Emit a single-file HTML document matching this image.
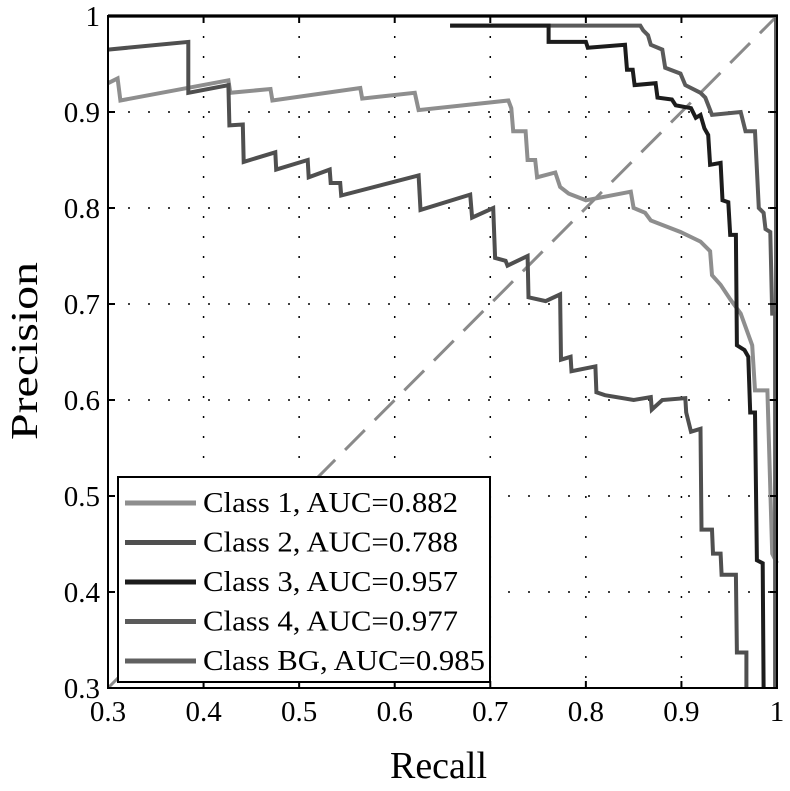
<!DOCTYPE html>
<html><head><meta charset="utf-8"><style>
body{margin:0;background:#fff}
text{font-family:"Liberation Serif",serif}
</style></head><body>
<svg id="chart" width="790" height="786" xmlns="http://www.w3.org/2000/svg"></svg>
<script>
const xTicks=[0.3,0.4,0.5,0.6,0.7,0.8,0.9,1];
const yTicks=[0.3,0.4,0.5,0.6,0.7,0.8,0.9,1];
const xTickLabels=["0.3","0.4","0.5","0.6","0.7","0.8","0.9","1"];
const yTickLabels=["0.3","0.4","0.5","0.6","0.7","0.8","0.9","1"];
const seriesNames=["Class 1, AUC=0.882","Class 2, AUC=0.788","Class 3, AUC=0.957","Class 4, AUC=0.977","Class BG, AUC=0.985"];
const class1=[[0.3,0.93],[0.31,0.935],[0.313,0.912],[0.426,0.933],[0.428,0.92],[0.47,0.924],[0.472,0.912],[0.564,0.925],[0.566,0.914],[0.621,0.92],[0.625,0.902],[0.719,0.912],[0.722,0.904],[0.724,0.88],[0.737,0.88],[0.739,0.85],[0.747,0.85],[0.749,0.832],[0.768,0.837],[0.773,0.822],[0.782,0.815],[0.8,0.808],[0.847,0.817],[0.85,0.8],[0.862,0.795],[0.868,0.787],[0.899,0.775],[0.92,0.765],[0.93,0.755],[0.932,0.73],[0.941,0.72],[0.951,0.705],[0.962,0.69],[0.974,0.657],[0.977,0.61],[0.99,0.61],[0.995,0.44],[1.0,0.43]];
const class2=[[0.3,0.965],[0.384,0.973],[0.384,0.92],[0.426,0.928],[0.427,0.886],[0.441,0.887],[0.442,0.848],[0.475,0.858],[0.476,0.84],[0.509,0.85],[0.51,0.832],[0.532,0.84],[0.533,0.826],[0.543,0.826],[0.544,0.813],[0.625,0.834],[0.627,0.798],[0.679,0.814],[0.681,0.79],[0.703,0.8],[0.705,0.748],[0.716,0.745],[0.718,0.74],[0.739,0.75],[0.74,0.707],[0.758,0.703],[0.773,0.71],[0.774,0.642],[0.784,0.645],[0.785,0.63],[0.81,0.635],[0.811,0.608],[0.82,0.605],[0.85,0.6],[0.868,0.603],[0.869,0.59],[0.88,0.6],[0.904,0.602],[0.905,0.587],[0.91,0.567],[0.92,0.57],[0.921,0.465],[0.932,0.465],[0.933,0.44],[0.941,0.44],[0.942,0.418],[0.957,0.418],[0.958,0.337],[0.968,0.337],[0.968,0.3]];
const class3=[[0.658,0.99],[0.761,0.99],[0.761,0.973],[0.8,0.973],[0.802,0.967],[0.841,0.97],[0.843,0.944],[0.849,0.944],[0.851,0.928],[0.873,0.93],[0.875,0.915],[0.89,0.913],[0.894,0.907],[0.91,0.904],[0.915,0.894],[0.92,0.897],[0.924,0.883],[0.928,0.876],[0.93,0.845],[0.941,0.847],[0.943,0.808],[0.949,0.806],[0.951,0.772],[0.957,0.772],[0.958,0.657],[0.966,0.652],[0.97,0.645],[0.972,0.587],[0.977,0.587],[0.979,0.433],[0.985,0.43],[0.986,0.3]];
const class4=[[0.658,0.99],[0.857,0.99],[0.86,0.985],[0.865,0.98],[0.868,0.97],[0.88,0.965],[0.883,0.946],[0.899,0.94],[0.904,0.928],[0.92,0.92],[0.925,0.915],[0.932,0.897],[0.962,0.9],[0.967,0.88],[0.977,0.88],[0.981,0.8],[0.986,0.795],[0.988,0.778],[0.993,0.775],[0.995,0.69],[0.998,0.69],[0.998,0.3]];
const classBG=[[0.3,1.0],[0.999,1.0],[0.999,0.3]];
const allSeries=[class1,class2,class3,class4,classBG];
const colors=["#8e8e8e","#4f4f4f","#1c1c1c","#5a5a5a","#606060"];

const NS="http://www.w3.org/2000/svg";
const svg=document.getElementById('chart');
const L=108,R=777,T=16,B=688;
const xs=v=>L+(v-0.3)/0.7*(R-L);
const ys=v=>B-(v-0.3)/0.7*(B-T);
function mk(tag,attrs,parent){const e=document.createElementNS(NS,tag);for(const k in attrs)e.setAttribute(k,attrs[k]);(parent||svg).appendChild(e);return e;}

const grid=mk('g',{});


xTicks.forEach((t,i)=>{
  if(i>0&&i<xTicks.length-1){const g=mk('line',{x1:xs(t),x2:xs(t),y1:T,y2:B,stroke:'#000','stroke-width':1.5,'stroke-dasharray':'2 18'},grid);
  
  }
});
yTicks.forEach((t,i)=>{
  if(i>0&&i<yTicks.length-1){const g=mk('line',{x1:L,x2:R,y1:ys(t),y2:ys(t),stroke:'#000','stroke-width':1.5,'stroke-dasharray':'2 18'},grid);
  
  }
});
const diag=mk('line',{x1:xs(0.3),y1:ys(0.3),x2:xs(1),y2:ys(1),stroke:'#8a8a8a','stroke-width':3,'stroke-dasharray':'28 14'});



const order=[4,0,1,3,2];
const snames=['class-1-curve','class-2-curve','class-3-curve','class-4-curve','class-bg-curve'];
order.forEach(i=>{
  const pts=allSeries[i].map(p=>xs(p[0]).toFixed(1)+','+ys(p[1]).toFixed(1)).join(' ');
  const pl=mk('polyline',{points:pts,fill:'none',stroke:colors[i],'stroke-width':4,'stroke-linejoin':'miter'});
  
  
});

const frame=mk('rect',{x:L,y:T,width:R-L,height:B-T,fill:'none',stroke:'#000','stroke-width':2});



xTicks.forEach((t,i)=>{
  mk('line',{x1:xs(t),x2:xs(t),y1:B,y2:B-7,stroke:'#000','stroke-width':2});
  mk('line',{x1:xs(t),x2:xs(t),y1:T,y2:T+7,stroke:'#000','stroke-width':2});
  const tx=mk('text',{x:xs(t),y:B+33,'font-size':29,'text-anchor':'middle'});
  tx.textContent=xTickLabels[i];
  
  
});
yTicks.forEach((t,i)=>{
  mk('line',{x1:L,x2:L+7,y1:ys(t),y2:ys(t),stroke:'#000','stroke-width':2});
  mk('line',{x1:R,x2:R-7,y1:ys(t),y2:ys(t),stroke:'#000','stroke-width':2});
  const tx=mk('text',{x:L-8,y:ys(t)+10,'font-size':29,'text-anchor':'end'});
  tx.textContent=yTickLabels[i];
  
  
});
const xt=mk('text',{x:390,y:778,'font-size':38,textLength:97,lengthAdjust:'spacingAndGlyphs'});
xt.textContent='Recall';


const yt=mk('text',{x:0,y:0,'font-size':38,textLength:178,lengthAdjust:'spacingAndGlyphs',transform:'translate(37,440) rotate(-90)'});
yt.textContent='Precision';



const lg=mk('g',{});


mk('rect',{x:118,y:477,width:372,height:205,fill:'#fff',stroke:'#000','stroke-width':2},lg);
const lens=[255,255,255,255,282];
seriesNames.forEach((n,i)=>{
  const y=503+i*39.5;
  const ln=mk('line',{x1:125,x2:196,y1:y,y2:y,stroke:colors[i],'stroke-width':5},lg);
  
  
  const tx=mk('text',{x:203,y:y+9,'font-size':28,textLength:lens[i],lengthAdjust:'spacingAndGlyphs'},lg);
  tx.textContent=n;
  
  
});
</script>
</body></html>
